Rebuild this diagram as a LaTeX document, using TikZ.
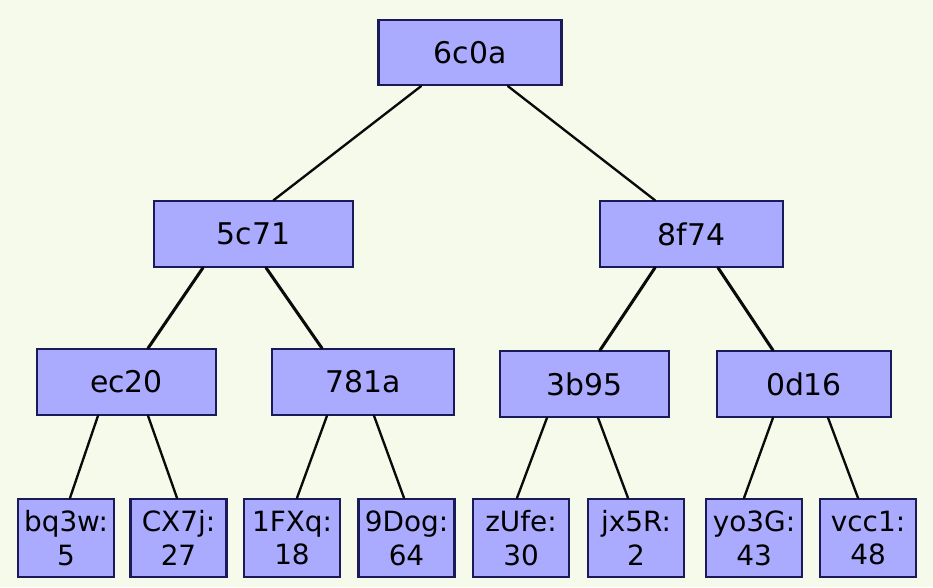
\documentclass[tikz,border=0pt]{standalone}
\usepackage{fontspec}
\setmainfont{DejaVu Sans}
\usepackage{xcolor}
\usepackage{tikz}
\usetikzlibrary{calc}
\definecolor{bg}{HTML}{F6FAEB}
\definecolor{boxfill}{HTML}{AAAAFF}
\definecolor{boxline}{HTML}{1A1A58}
\definecolor{edge}{HTML}{0A0A0A}
\tikzset{
  inner/.style={draw=boxline, fill=boxfill, line width=1.8pt, inner sep=0pt,
    minimum height=1.96cm, font=\fontsize{25.5}{30}\selectfont},
  leaf/.style={draw=boxline, fill=boxfill, line width=1.8pt, inner sep=0pt,
    minimum width=2.88cm, minimum height=2.34cm, align=center,
    font=\fontsize{23.8}{28.9}\selectfont},
  link/.style={draw=edge, line width=2pt, line cap=round},
  linkm/.style={draw=edge, line width=2.6pt, line cap=round},
}

\begin{document}
\begin{tikzpicture}[x=0.03cm, y=-0.03cm]
\fill[bg] (0,0) rectangle (933,587);
\useasboundingbox (0,0) rectangle (933,587);
% internal nodes
\node[inner, minimum width=5.49cm] (h6c0a) at (470,52.5) {6c0a};
\node[inner, minimum width=5.97cm] (h5c71) at (253.5,234) {5c71};
\node[inner, minimum width=5.49cm] (h8f74) at (691.5,234) {8f74};
\node[inner, minimum width=5.37cm] (hec20) at (126.5,382) {ec20};
\node[inner, minimum width=5.46cm] (h781a) at (363,382) {781a};
\node[inner, minimum width=5.07cm] (h3b95) at (584.5,384) {3b95};
\node[inner, minimum width=5.22cm] (h0d16) at (804,384) {0d16};
% leaves
\node[leaf] (bq3w) at (66,538) {bq3w:\\5};
\node[leaf] (CX7j) at (178.5,538) {CX7j:\\27};
\node[leaf] (FXq) at (292,538) {1FXq:\\18};
\node[leaf] (Dog) at (406.5,538) {9Dog:\\64};
\node[leaf] (zUfe) at (521,538) {zUfe:\\30};
\node[leaf] (jx5R) at (636,538) {jx5R:\\2};
\node[leaf] (yo3G) at (754,538) {yo3G:\\43};
\node[leaf] (vcc1) at (868,538) {vcc1:\\48};
% edges
\draw[link] ($(h6c0a.south)+(-49,0)$) -- ($(h5c71.north)+(20,0)$);
\draw[link] ($(h6c0a.south)+(38,0)$) -- ($(h8f74.north)+(-36.5,0)$);
\draw[linkm] ($(h5c71.south)+(-50.5,0)$) -- ($(hec20.north)+(21.5,0)$);
\draw[linkm] ($(h5c71.south)+(12.5,0)$) -- ($(h781a.north)+(-41,0)$);
\draw[linkm] ($(h8f74.south)+(-36.5,0)$) -- ($(h3b95.north)+(15.5,0)$);
\draw[linkm] ($(h8f74.south)+(26.5,0)$) -- ($(h0d16.north)+(-31,0)$);
\draw[link] ($(hec20.south)+(-28.5,0)$) -- ($(bq3w.north)+(4,0)$);
\draw[link] ($(hec20.south)+(21.5,0)$) -- ($(CX7j.north)+(-1.5,0)$);
\draw[link] ($(h781a.south)+(-36,0)$) -- ($(FXq.north)+(5,0)$);
\draw[link] ($(h781a.south)+(11,0)$) -- ($(Dog.north)+(-2.5,0)$);
\draw[link] ($(h3b95.south)+(-37.5,0)$) -- ($(zUfe.north)+(-4,0)$);
\draw[link] ($(h3b95.south)+(13.5,0)$) -- ($(jx5R.north)+(-8,0)$);
\draw[link] ($(h0d16.south)+(-31,0)$) -- ($(yo3G.north)+(-10,0)$);
\draw[link] ($(h0d16.south)+(24,0)$) -- ($(vcc1.north)+(-10,0)$);
\end{tikzpicture}
\end{document}
